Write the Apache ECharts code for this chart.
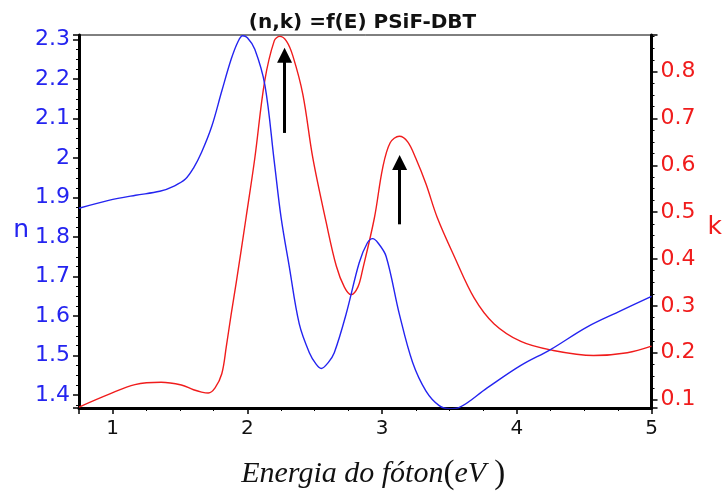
<!DOCTYPE html>
<html>
<head>
<meta charset="utf-8">
<script src="https://cdn.jsdelivr.net/npm/echarts@6/dist/echarts.min.js"></script>
<style>
  html, body { margin: 0; padding: 0; background: #fff; }
  #chart { width: 725px; height: 496px; }
</style>
</head>
<body>
<div id="chart"></div>
<script>
// refractive index n (left axis)
const nEnergy = [0.75, 0.97, 1.17, 1.35, 1.46, 1.54, 1.6, 1.66, 1.735, 1.81, 1.88, 1.93, 1.965, 2.0, 2.055, 2.13, 2.2, 2.25, 2.31, 2.385, 2.46, 2.51, 2.548, 2.6, 2.645, 2.733, 2.83, 2.89, 2.93, 2.97, 3.03, 3.128, 3.226, 3.326, 3.424, 3.5, 3.57, 3.78, 4.03, 4.25, 4.52, 4.77, 5.0];
const nValues = [1.873, 1.893, 1.906, 1.916, 1.93, 1.947, 1.975, 2.015, 2.08, 2.17, 2.251, 2.295, 2.31, 2.305, 2.276, 2.185, 1.99, 1.85, 1.727, 1.58, 1.507, 1.478, 1.467, 1.482, 1.507, 1.605, 1.735, 1.785, 1.796, 1.785, 1.751, 1.605, 1.483, 1.41, 1.373, 1.365, 1.368, 1.418, 1.475, 1.515, 1.572, 1.613, 1.65];

// extinction coefficient k (right axis)
const kEnergy = [0.75, 0.97, 1.165, 1.36, 1.51, 1.6, 1.66, 1.71, 1.76, 1.81, 1.844, 1.88, 1.918, 1.99, 2.055, 2.128, 2.2, 2.24, 2.29, 2.338, 2.412, 2.486, 2.585, 2.66, 2.72, 2.77, 2.82, 2.856, 2.943, 3.004, 3.06, 3.128, 3.19, 3.25, 3.326, 3.41, 3.535, 3.683, 3.83, 4.03, 4.25, 4.57, 4.82, 5.0];
const kValues = [0.084, 0.111, 0.132, 0.137, 0.131, 0.121, 0.116, 0.114, 0.125, 0.155, 0.214, 0.283, 0.351, 0.488, 0.615, 0.779, 0.866, 0.875, 0.865, 0.833, 0.751, 0.615, 0.478, 0.385, 0.34, 0.324, 0.34, 0.378, 0.488, 0.594, 0.648, 0.662, 0.65, 0.615, 0.56, 0.488, 0.406, 0.317, 0.262, 0.224, 0.206, 0.194, 0.2, 0.214];

// arrows drawn on the k scale: [energy, kFrom, kTo]
const arrows = [[2.276, 0.669, 0.835], [3.13, 0.474, 0.606]];

const xRange = [0.75, 5];
const nRange = [1.367, 2.312];
const kRange = [0.082, 0.878];

const blue = '#2424f0';
const red = '#f01c1c';

const chart = echarts.init(document.getElementById('chart'));

const pairs = (xs, ys) => xs.map((x, i) => [x, ys[i]]);

const axisBase = {
  axisLine: { show: true, lineStyle: { color: '#000', width: 3 } },
  axisTick: { show: true, length: 6, lineStyle: { color: '#000', width: 1.5 } },
  minorTick: { show: true, splitNumber: 4, length: 3, lineStyle: { color: '#000', width: 1 } },
  splitLine: { show: false }
};

const tickFont = { fontFamily: 'DejaVu Sans', fontSize: 22, showMinLabel: false, showMaxLabel: false };

chart.setOption({
  animation: false,
  backgroundColor: '#fff',
  title: {
    text: '(n,k) =f(E) PSiF-DBT',
    left: 'center',
    top: 8,
    textStyle: { fontFamily: 'DejaVu Sans', fontWeight: 'bold', fontSize: 20, color: '#111' }
  },
  grid: {
    left: 79, right: 70, top: 35, bottom: 73,
    show: true, borderColor: '#000', borderWidth: 1
  },
  xAxis: {
    type: 'value',
    min: xRange[0], max: xRange[1],
    ...axisBase,
    axisLabel: { ...tickFont, fontSize: 20, showMaxLabel: true, color: '#111', margin: 11 },
    name: '{i|Energia do fóton}{p|(}{i|eV}{p| )}',
    nameLocation: 'middle',
    nameGap: 50,
    nameTextStyle: {
      padding: [0, 0, 0, 16],
      rich: {
        i: { fontFamily: 'Liberation Serif', fontStyle: 'italic', fontSize: 30, color: '#111' },
        p: { fontFamily: 'Liberation Serif', fontSize: 33, color: '#111' }
      }
    }
  },
  yAxis: [
    {
      type: 'value',
      min: nRange[0], max: nRange[1],
      splitNumber: 9,
      ...axisBase,
      axisLabel: { ...tickFont, color: blue, margin: 9 },
      name: '{a|n}',
      nameLocation: 'middle',
      nameRotate: 0,
      nameGap: 50,
      nameTextStyle: {
        rich: { a: { fontFamily: 'DejaVu Sans', fontSize: 25, color: blue, padding: [18, 0, 0, 0] } }
      }
    },
    {
      type: 'value',
      position: 'right',
      min: kRange[0], max: kRange[1],
      splitNumber: 8,
      ...axisBase,
      axisLabel: { ...tickFont, color: red, margin: 9 },
      name: '{a|k}',
      nameLocation: 'middle',
      nameRotate: 0,
      nameGap: 56,
      nameTextStyle: {
        rich: { a: { fontFamily: 'DejaVu Sans', fontSize: 25, color: red, padding: [12, 0, 0, 0] } }
      }
    }
  ],
  series: [
    {
      name: 'n',
      type: 'line',
      yAxisIndex: 0,
      data: pairs(nEnergy, nValues),
      smooth: 0.35,
      showSymbol: false,
      clip: true,
      lineStyle: { color: blue, width: 1.4 },
      z: 3
    },
    {
      name: 'k',
      type: 'line',
      yAxisIndex: 1,
      data: pairs(kEnergy, kValues),
      smooth: 0.35,
      showSymbol: false,
      clip: true,
      lineStyle: { color: red, width: 1.4 },
      z: 2,
      markLine: {
        silent: true,
        symbol: ['none', 'triangle'],
        symbolSize: [15, 15],
        label: { show: false },
        lineStyle: { color: '#000', width: 3, type: 'solid' },
        data: arrows.map(a => [{ coord: [a[0], a[1]] }, { coord: [a[0], a[2]] }])
      }
    }
  ]
});
</script>
</body>
</html>
